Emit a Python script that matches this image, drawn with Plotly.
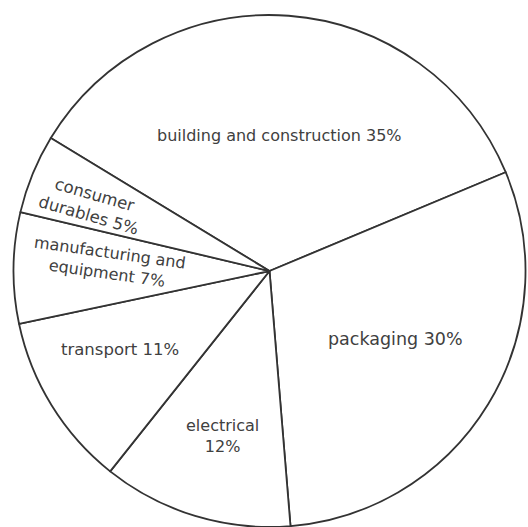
import math
import plotly.graph_objects as go

# ---- data ----
categories = ["building and construction", "packaging", "electrical",
              "transport", "manufacturing and equipment", "consumer durables"]
shares = [35, 30, 12, 11, 7, 5]
label_texts = ["building and construction 35%", "packaging 30%", "electrical<br>12%",
               "transport 11%", "manufacturing and<br>equipment 7%", "consumer<br>durables 5%"]

# ---- style / layout ----
W, H = 528, 527
start_angle = -58.7          # clockwise from 12 o'clock
dom_x = [0.0256, 0.9953]
dom_y = [0.0, 0.9715]
label_r = [0.53, 0.56, 0.67, 0.66, 0.63, 0.74]   # fraction of radius
label_shift = [0, -3, -1, 4, 2, -2]              # degrees off the slice middle
label_angle = [0, 0, 0, 0, 8, 16]
label_size = [16, 17.5, 16, 16.5, 16, 16.5]
line_col = "#333333"
txt_col = "#404040"
font_family = "DejaVu Sans"

fig = go.Figure(go.Pie(
    labels=categories, values=shares, sort=False, direction="clockwise",
    rotation=start_angle, textinfo="none", hoverinfo="label+percent",
    marker=dict(colors=["white"] * len(shares), line=dict(color=line_col, width=1.8)),
    domain=dict(x=dom_x, y=dom_y), showlegend=False,
))

# pie geometry in pixels (margins are 0)
wpx = (dom_x[1] - dom_x[0]) * W
hpx = (dom_y[1] - dom_y[0]) * H
R = min(wpx, hpx) / 2
cx = (dom_x[0] + dom_x[1]) / 2 * W
cy = H - (dom_y[0] + dom_y[1]) / 2 * H   # from top

total = sum(shares)
cum = 0
for v, t, rf, sh, ang, fs in zip(shares, label_texts, label_r, label_shift,
                                 label_angle, label_size):
    mid = start_angle + (cum + v / 2) / total * 360 + sh
    cum += v
    a = math.radians(mid)
    px = cx + rf * R * math.sin(a)
    py = cy - rf * R * math.cos(a)
    fig.add_annotation(x=px / W, y=1 - py / H, xref="paper", yref="paper",
                       text=t, showarrow=False, textangle=ang,
                       font=dict(family=font_family, size=fs, color=txt_col),
                       xanchor="center", yanchor="middle")

fig.update_layout(width=W, height=H, margin=dict(l=0, r=0, t=0, b=0),
                  paper_bgcolor="white", plot_bgcolor="white")
fig.write_html("out.html", config={"displayModeBar": False},
               post_script="document.body.style.margin='0';document.body.style.overflow='hidden';")
